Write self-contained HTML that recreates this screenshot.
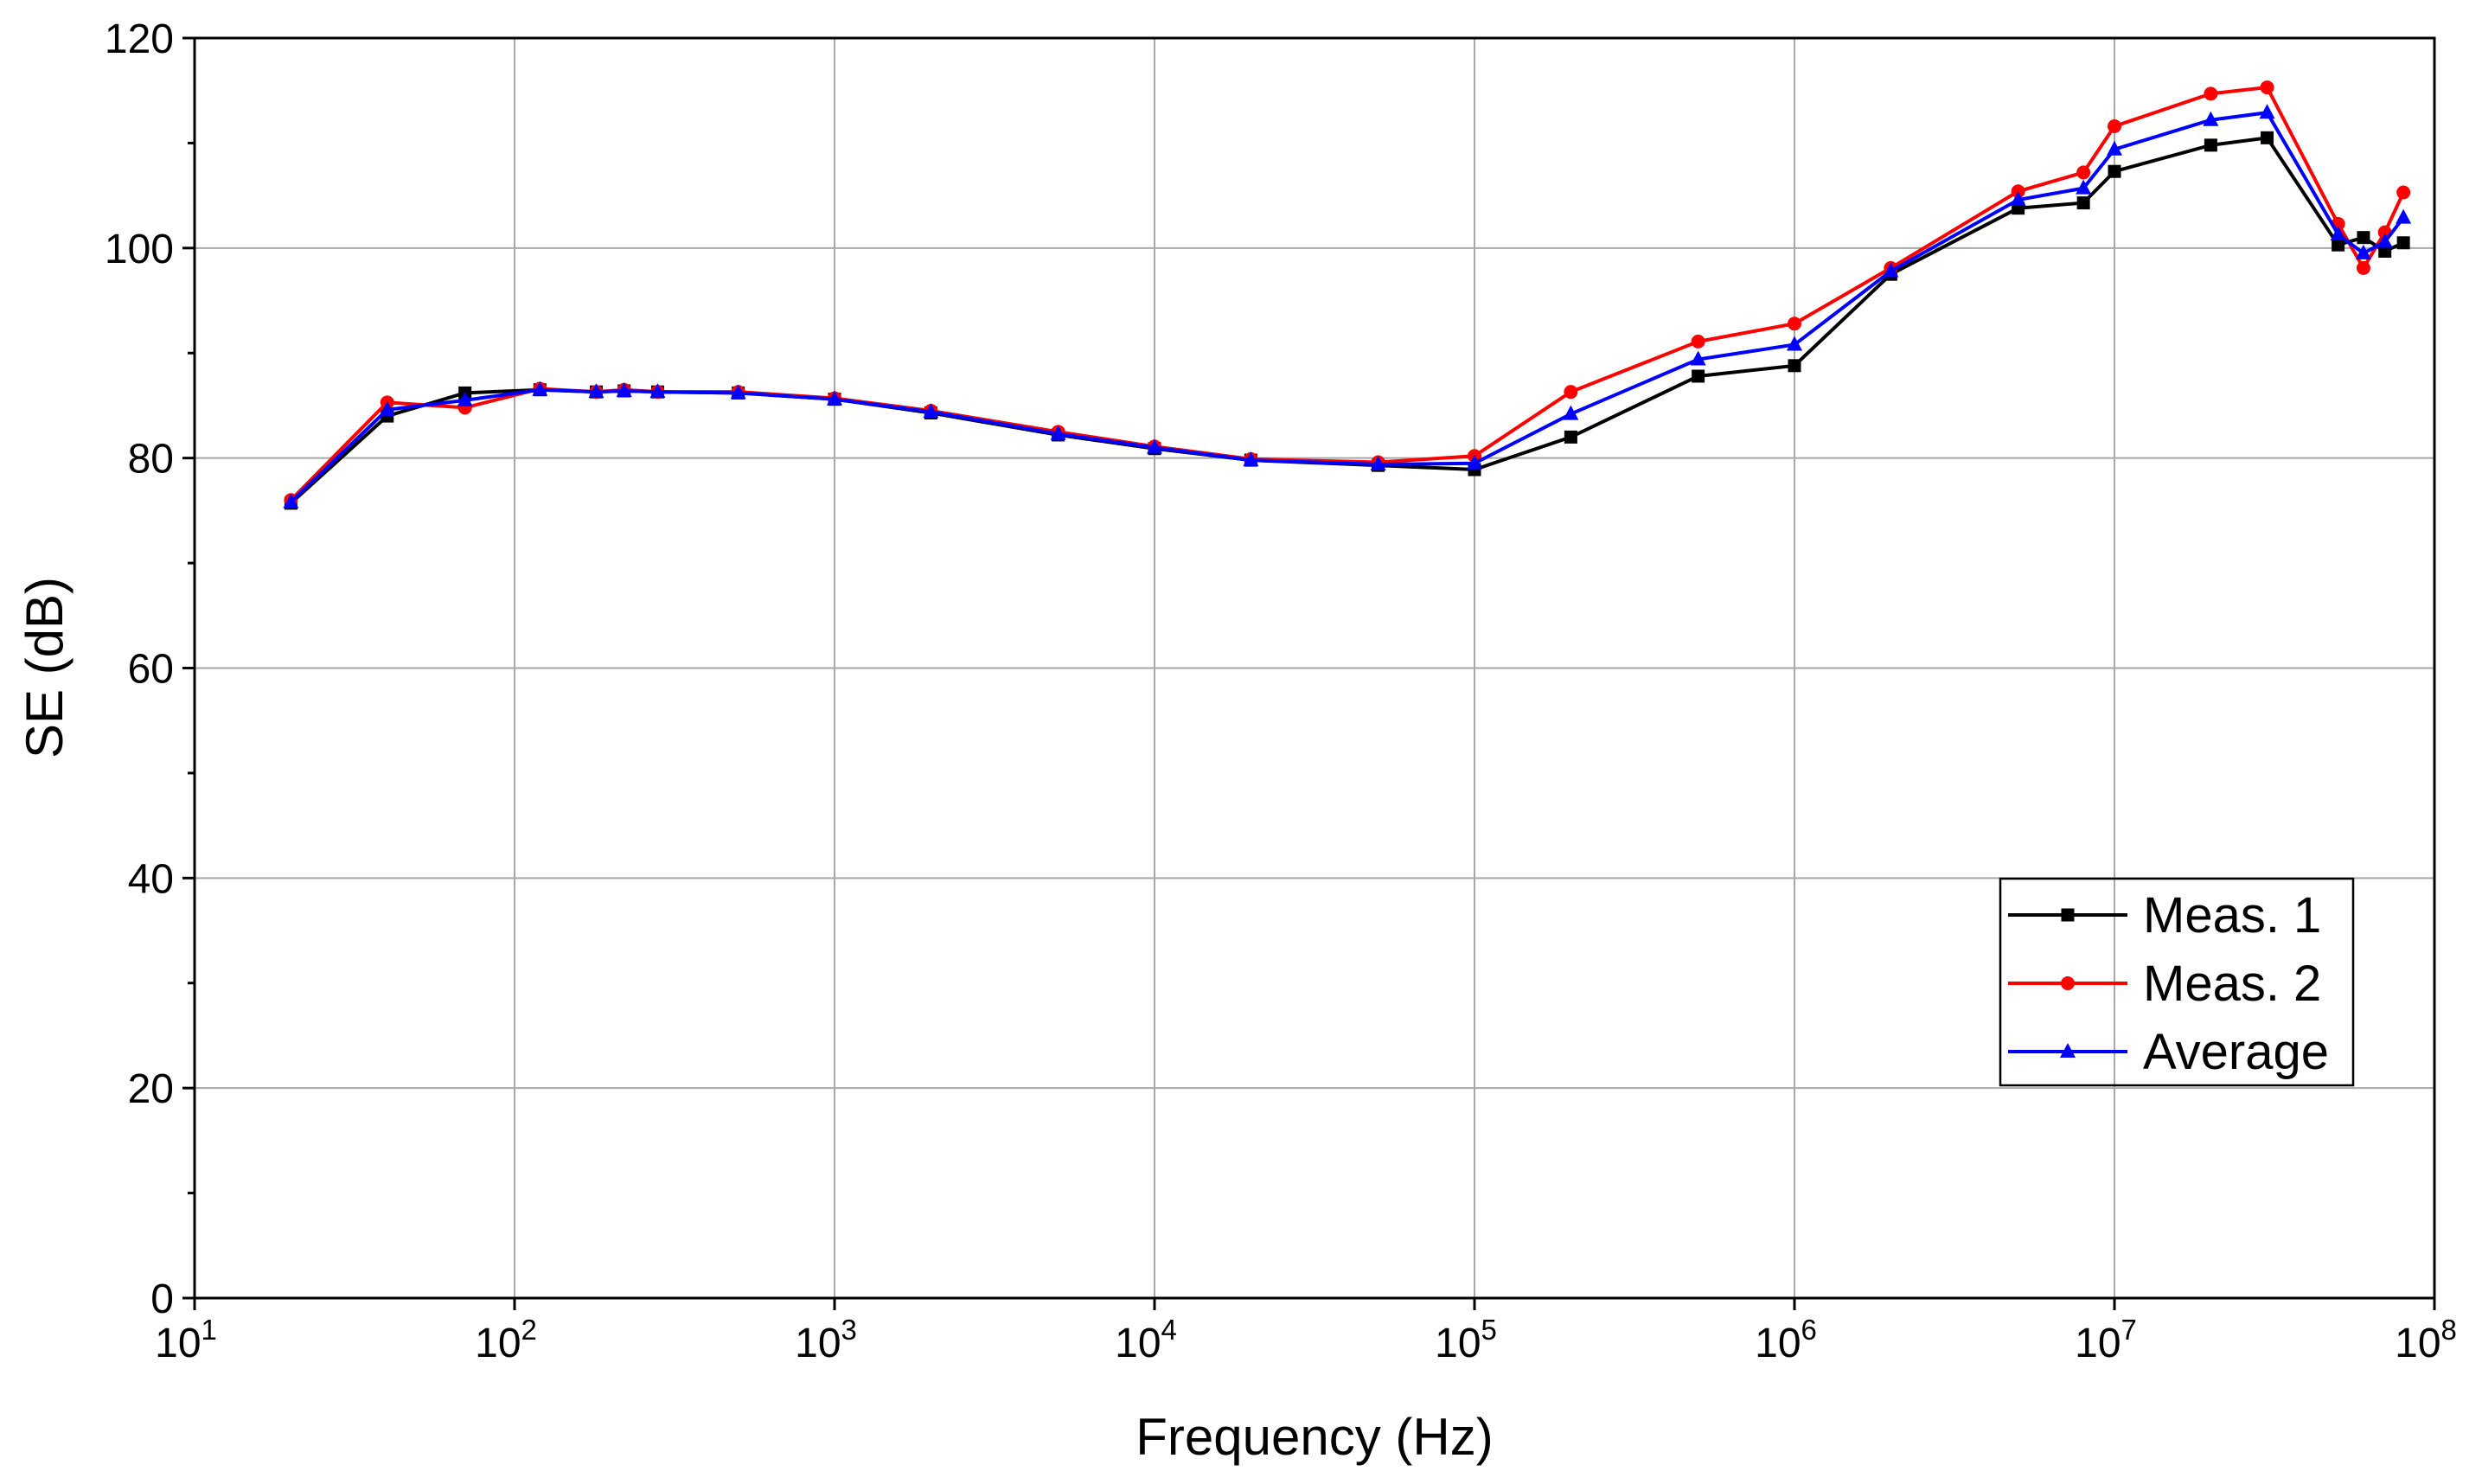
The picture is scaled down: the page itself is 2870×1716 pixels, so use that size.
<!DOCTYPE html>
<html><head><meta charset="utf-8"><style>
html,body{margin:0;padding:0;background:#fff}
svg{display:block;font-family:"Liberation Sans",Arial,sans-serif}
</style></head><body>
<svg id="chart" width="2870" height="1716" viewBox="0 0 2870 1716" xmlns="http://www.w3.org/2000/svg">
<g id="grid"></g>
<g id="axes"></g>
<g id="series"></g>
<text x="1520" y="1682" font-size="60" text-anchor="middle">Frequency (Hz)</text>
<text transform="translate(72,772) rotate(-90)" font-size="60" text-anchor="middle">SE (dB)</text>
<g id="legend"></g>
</svg>
<script>
const freqs=[20,40,70,120,180,220,280,500,1000,2000,5000,1e4,2e4,5e4,1e5,2e5,5e5,1e6,2e6,5e6,8e6,1e7,2e7,3e7,5e7,6e7,7e7,8e7];
const meas1=[75.7,84,86.2,86.5,86.3,86.4,86.3,86.2,85.6,84.3,82.2,80.9,79.8,79.3,78.9,82,87.8,88.8,97.5,103.8,104.3,107.3,109.8,110.5,100.3,101,99.7,100.5];
const meas2=[76,85.3,84.8,86.6,86.3,86.5,86.3,86.3,85.7,84.5,82.5,81.1,79.9,79.6,80.2,86.3,91.1,92.8,98.1,105.4,107.2,111.6,114.7,115.3,102.3,98.1,101.5,105.3];
const average=[75.8,84.6,85.5,86.5,86.3,86.4,86.3,86.2,85.6,84.4,82.3,81,79.8,79.4,79.5,84.2,89.4,90.8,97.8,104.6,105.7,109.4,112.2,112.9,101.3,99.5,100.6,102.9];
const xExps=[1,2,3,4,5,6,7,8];
const yTicks=[0,20,40,60,80,100,120];
const seriesNames=["Meas. 1","Meas. 2","Average"];

const NS="http://www.w3.org/2000/svg";
const L=225,R=2815,T=44,B=1501;
const X=f=>L+(Math.log10(f)-1)/7*(R-L);
const Y=v=>B-v/120*(B-T);
function mk(tag,attrs,parent){const e=document.createElementNS(NS,tag);for(const k in attrs)e.setAttribute(k,attrs[k]);parent.appendChild(e);return e;}
const grid=document.getElementById('grid'),axes=document.getElementById('axes'),ser=document.getElementById('series'),leg=document.getElementById('legend');
xExps.forEach(p=>{const x=X(Math.pow(10,p));
 if(p>1&&p<8){const g=mk('line',{x1:x,x2:x,y1:T,y2:B,stroke:'#a8a8a8','stroke-width':2},grid);
 
 }
 const t=mk('line',{x1:x,x2:x,y1:B,y2:B+14,stroke:'#000','stroke-width':3},axes);
 
 
 const tx=mk('text',{x:x-10,y:B+68,'font-size':48,'text-anchor':'middle'},axes);
 
 
 tx.textContent='10';
 const sp=mk('tspan',{dy:-20,'font-size':33},tx);sp.textContent=String(p);
});
yTicks.forEach(v=>{const y=Y(v);
 if(v>0&&v<120){const g=mk('line',{x1:L,x2:R,y1:y,y2:y,stroke:'#a8a8a8','stroke-width':2},grid);
 
 }
 const t=mk('line',{x1:L-14,x2:L,y1:y,y2:y,stroke:'#000','stroke-width':3},axes);
 
 
 const tx=mk('text',{x:L-24,y:y+17,'font-size':48,'text-anchor':'end'},axes);
 
 
 tx.textContent=String(v);
});
for(let v=10;v<120;v+=20){const t=mk('line',{x1:L-8,x2:L,y1:Y(v),y2:Y(v),stroke:'#000','stroke-width':3},axes);
 
 }
const frame=mk('rect',{x:L,y:T,width:R-L,height:B-T,fill:'none',stroke:'#000','stroke-width':3},axes);



function marker(type,x,y,col,parent){
 let e;
 if(type==='s')e=mk('rect',{x:x-7.5,y:y-7.5,width:15,height:15,fill:col},parent);
 else if(type==='c')e=mk('circle',{cx:x,cy:y,r:8,fill:col},parent);
 else e=mk('polygon',{points:`${x},${y-10} ${x-9},${y+7} ${x+9},${y+7}`,fill:col},parent);
 return e;}
const sets=[[meas1,'#000','s'],[meas2,'#ff0000','c'],[average,'#0000ff','t']];
sets.forEach(([vals,col,m],i)=>{
 const g=mk('g',{},ser);
 
 
 const pl=mk('polyline',{points:vals.map((v,k)=>X(freqs[k])+','+Y(v)).join(' '),fill:'none',stroke:col,'stroke-width':4},g);
 
 
 vals.forEach((v,k)=>{const e=marker(m,X(freqs[k]),Y(v),col,g);
  
  });
 const ly=1058+i*79;
 const ll=mk('line',{x1:2322,x2:2460,y1:ly,y2:ly,stroke:col,'stroke-width':4},leg);
 
 
 const lm=marker(m,2391,ly,col,leg);
 
 
 const lt=mk('text',{x:2478,y:ly+20,'font-size':58},leg);
 
 
 lt.textContent=seriesNames[i];
});
const lb=mk('rect',{x:2313,y:1016,width:408,height:239,fill:'none',stroke:'#000','stroke-width':2.5},leg);


</script>
</body></html>
